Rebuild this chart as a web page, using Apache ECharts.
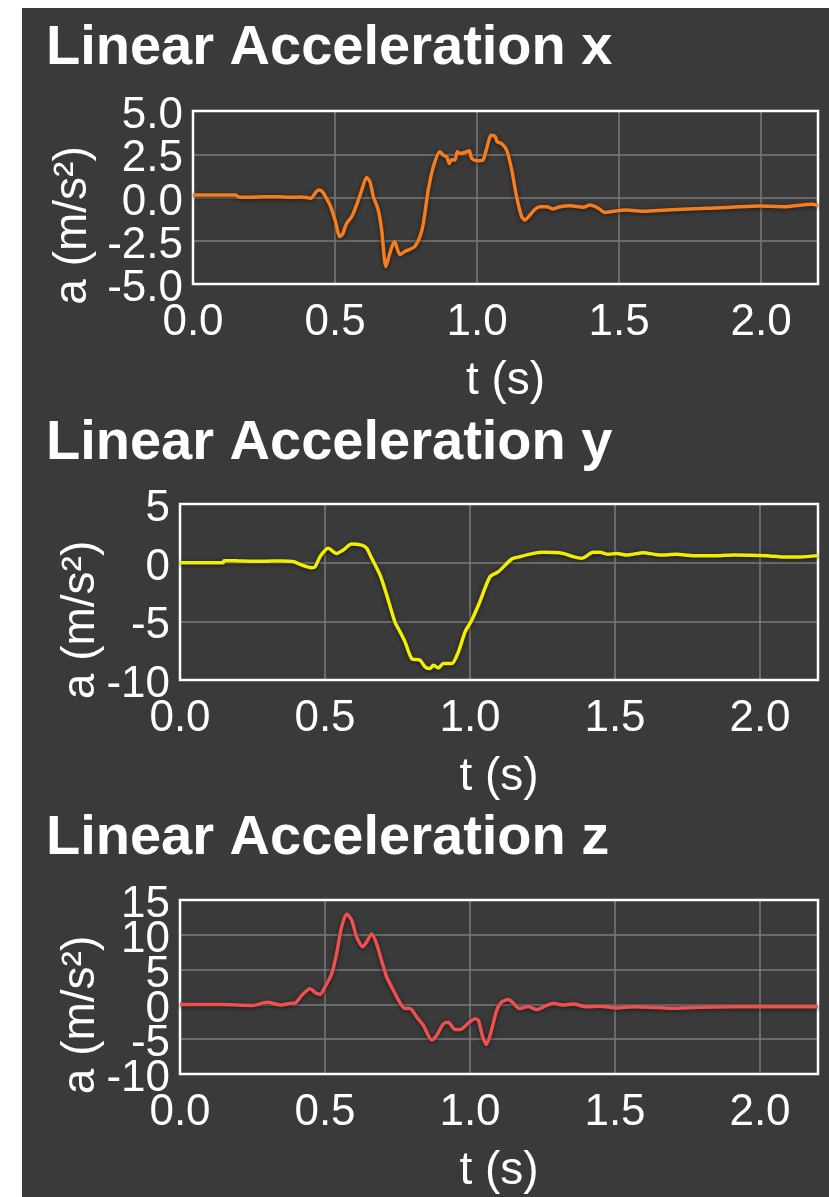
<!DOCTYPE html>
<html>
<head>
<meta charset="utf-8">
<script src="https://cdn.jsdelivr.net/npm/echarts@6/dist/echarts.min.js"></script>
<style>
  html, body { margin: 0; padding: 0; background: #ffffff; width: 829px; height: 1197px; overflow: hidden; }
  #panel { position: absolute; left: 22px; top: 8px; width: 807px; height: 1189px; background: #3a3a3a; }
  #chart { position: absolute; left: 0; top: 0; width: 829px; height: 1197px; }
</style>
</head>
<body>
<div id="panel"></div>
<div id="chart"></div>
<script>
// ---- Data ----
const titles = ['Linear Acceleration x', 'Linear Acceleration y', 'Linear Acceleration z'];
const xAxisName = 't (s)';
const yAxisName = 'a (m/s\u00B2)';
const xTicks = [0.0, 0.5, 1.0, 1.5, 2.0];

const tX = [0.000,0.150,0.160,0.200,0.250,0.300,0.350,0.380,0.400,0.415,0.430,0.441,0.455,0.468,0.482,0.500,0.517,0.527,0.541,0.559,0.576,0.594,0.611,0.623,0.635,0.652,0.664,0.679,0.693,0.709,0.729,0.746,0.764,0.781,0.799,0.811,0.828,0.846,0.869,0.881,0.893,0.902,0.912,0.922,0.930,0.940,0.957,0.972,0.981,0.999,1.020,1.032,1.050,1.063,1.071,1.086,1.104,1.122,1.139,1.157,1.169,1.186,1.204,1.221,1.245,1.268,1.292,1.327,1.374,1.398,1.427,1.450,1.479,1.526,1.590,1.667,1.785,1.896,1.996,2.078,2.178,2.200];
const aX = [0.14,0.14,0.03,0.02,0.05,0.04,0.01,0.03,0.00,-0.05,0.25,0.43,0.35,0.00,-0.43,-1.30,-2.26,-2.10,-1.49,-1.10,-0.43,0.43,1.16,0.91,0.05,-0.72,-1.87,-3.99,-3.22,-2.55,-3.31,-3.12,-2.99,-2.83,-2.26,-1.49,0.43,1.78,2.64,2.45,2.35,1.97,2.20,2.16,2.64,2.55,2.60,2.70,2.26,2.12,2.16,2.74,3.60,3.54,3.22,3.12,2.74,1.59,0.05,-1.10,-1.30,-1.01,-0.68,-0.53,-0.53,-0.66,-0.53,-0.47,-0.56,-0.43,-0.62,-0.87,-0.80,-0.72,-0.80,-0.72,-0.64,-0.56,-0.49,-0.53,-0.39,-0.47];

const tY = [0.000,0.149,0.152,0.200,0.250,0.300,0.350,0.390,0.414,0.454,0.466,0.483,0.511,0.540,0.563,0.592,0.626,0.644,0.661,0.690,0.713,0.741,0.759,0.776,0.799,0.828,0.845,0.862,0.874,0.891,0.908,0.937,0.960,0.983,1.006,1.034,1.069,1.098,1.144,1.172,1.218,1.253,1.322,1.356,1.385,1.425,1.448,1.477,1.506,1.540,1.598,1.655,1.713,1.770,1.851,1.908,2.023,2.080,2.138,2.200];
const aY = [0.00,0.00,0.17,0.15,0.12,0.13,0.15,0.10,-0.15,-0.43,-0.35,0.51,1.22,0.79,1.08,1.59,1.50,1.22,0.37,-1.06,-2.77,-5.04,-5.90,-6.75,-8.17,-8.32,-8.88,-9.03,-8.74,-8.97,-8.60,-8.60,-7.60,-5.90,-4.90,-3.33,-1.20,-0.77,0.31,0.51,0.79,0.88,0.79,0.51,0.37,0.88,0.88,0.71,0.79,0.65,0.85,0.65,0.71,0.60,0.60,0.65,0.60,0.48,0.48,0.60];

const tZ = [0.000,0.150,0.200,0.250,0.300,0.350,0.380,0.397,0.420,0.448,0.470,0.483,0.500,0.523,0.540,0.557,0.575,0.592,0.609,0.630,0.644,0.661,0.678,0.695,0.713,0.736,0.759,0.776,0.793,0.816,0.839,0.868,0.885,0.908,0.925,0.948,0.966,0.994,1.017,1.029,1.044,1.057,1.071,1.092,1.109,1.132,1.149,1.170,1.201,1.230,1.264,1.287,1.322,1.356,1.402,1.448,1.506,1.563,1.620,1.690,1.793,1.900,2.000,2.100,2.200];
const aZ = [0.00,0.00,-0.10,-0.15,0.30,-0.10,0.15,0.20,1.30,2.25,1.60,1.45,2.50,4.40,7.30,11.10,13.00,12.10,9.70,8.30,9.00,10.10,8.70,6.30,3.90,2.00,0.20,-0.60,-0.60,-1.80,-3.00,-5.10,-4.45,-2.80,-2.55,-3.60,-3.60,-2.70,-2.05,-2.30,-4.70,-5.75,-4.20,-0.85,0.35,0.70,0.20,-0.60,-0.30,-0.75,-0.15,0.15,-0.10,0.05,-0.35,-0.25,-0.50,-0.35,-0.40,-0.55,-0.40,-0.35,-0.30,-0.35,-0.35];

const yRanges = [[-5, 5, 2.5, 1], [-10, 5, 5, 0], [-10, 15, 5, 0]];
const colors = ['#f77c1e', '#f2ee00', '#ee5050'];
const series = [[tX, aX], [tY, aY], [tZ, aZ]];

// ---- Layout ----
const FONT = '"Liberation Sans", Arial, Helvetica, sans-serif';
const grids = [
  { left: 193, right: 11, top: 111, height: 173 },
  { left: 180, right: 11, top: 504, height: 176 },
  { left: 180, right: 11, top: 900, height: 174 }
];
const titleTops = [21, 416, 811];
const yNameGaps = [89, 76, 76];

const yLabelBase = { color: '#ffffff', fontSize: 44, lineHeight: 10, verticalAlign: 'top', fontFamily: FONT, margin: 10, hideOverlap: false };

const yAxes = [];
yRanges.forEach((r, i) => {
  // inner tick labels + grid lines + axis name
  yAxes.push({
    type: 'value', gridIndex: i, min: r[0], max: r[1], interval: r[2],
    name: yAxisName, nameLocation: 'middle', nameGap: yNameGaps[i], nameRotate: 90,
    nameTextStyle: { color: '#ffffff', fontSize: 46, fontFamily: FONT, padding: [0, 56, 0, 0] },
    axisLine: { show: false }, axisTick: { show: false },
    axisLabel: Object.assign({}, yLabelBase, { showMinLabel: false, showMaxLabel: false, formatter: v => v.toFixed(r[3]) }),
    splitLine: { show: true, showMinLine: false, showMaxLine: false, lineStyle: { color: '#7b7b7b', width: 1.5 } }
  });
  // min / max tick labels
  yAxes.push({
    type: 'value', gridIndex: i, min: r[0], max: r[1], interval: r[2], position: 'left', offset: 0,
    axisLine: { show: false }, axisTick: { show: false }, splitLine: { show: false },
    axisLabel: Object.assign({}, yLabelBase, {
      showMinLabel: true, showMaxLabel: true,
      formatter: v => (Math.abs(v - r[0]) < 1e-9 || Math.abs(v - r[1]) < 1e-9) ? v.toFixed(r[3]) : ''
    })
  });
});

const option = {
  animation: false,
  backgroundColor: 'transparent',
  title: titles.map((t, i) => ({
    text: t, left: 46, top: titleTops[i], padding: 0,
    textStyle: { color: '#ffffff', fontSize: 56, fontWeight: 'bold', fontFamily: FONT }
  })),
  grid: grids.map(g => Object.assign({ show: true, z: 3, borderColor: '#ffffff', borderWidth: 2.5, backgroundColor: 'transparent' }, g)),
  xAxis: grids.map((g, i) => ({
    type: 'value', gridIndex: i, min: 0, max: 2.2, interval: 0.5,
    name: xAxisName, nameLocation: 'middle', nameGap: 74,
    nameTextStyle: { color: '#ffffff', fontSize: 46, fontFamily: FONT },
    axisLine: { show: false }, axisTick: { show: false },
    axisLabel: {
      color: '#ffffff', fontSize: 44, fontFamily: FONT, margin: 17, showMinLabel: true, showMaxLabel: false, hideOverlap: false,
      formatter: v => (Math.abs(v / 0.5 - Math.round(v / 0.5)) < 1e-6 ? v.toFixed(1) : '')
    },
    splitLine: { show: true, showMinLine: false, showMaxLine: false, lineStyle: { color: '#7b7b7b', width: 1.5 } }
  })),
  yAxis: yAxes,
  series: series.map((s, i) => ({
    type: 'line', xAxisIndex: i, yAxisIndex: i * 2, showSymbol: false, smooth: 0.25,
    data: s[0].map((t, k) => [t, s[1][k]]),
    lineStyle: { color: colors[i], width: 3.5, shadowColor: 'rgba(0,0,0,0.6)', shadowBlur: 4, shadowOffsetY: 1 }
  }))
};

const chart = echarts.init(document.getElementById('chart'), null, { renderer: 'canvas' });
chart.setOption(option);
</script>
</body>
</html>
